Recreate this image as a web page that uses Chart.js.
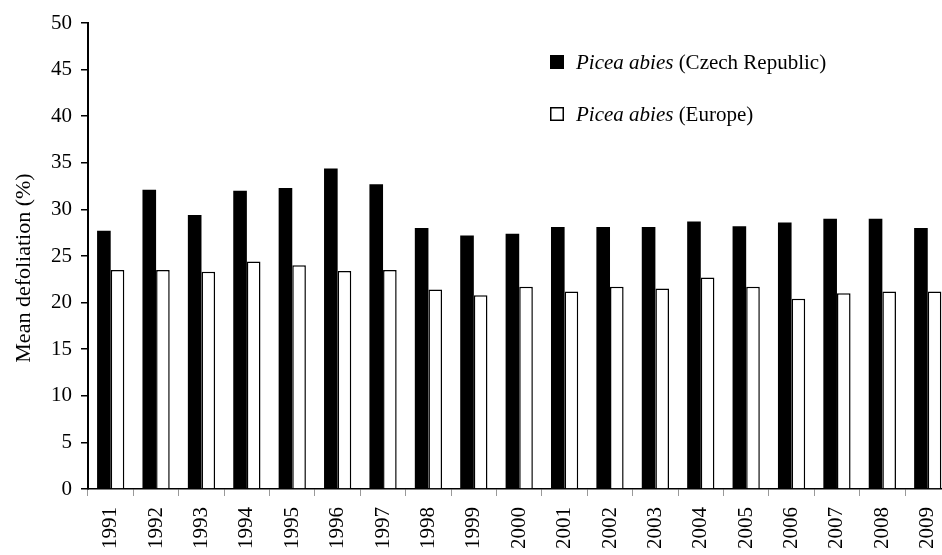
<!DOCTYPE html>
<html>
<head>
<meta charset="utf-8">
<script src="https://cdn.jsdelivr.net/npm/chart.js@4.4.1/dist/chart.umd.min.js"></script>
<style>
    html, body { margin: 0; padding: 0; overflow: hidden; background: #fff; }
    #wrap { width: 964px; height: 555px; position: relative; }
</style>
</head>
<body>
<div id="wrap"><canvas id="defoliationChart"></canvas></div>
<script>
// data
var years = ["1991", "1992", "1993", "1994", "1995", "1996", "1997", "1998", "1999", "2000",
    "2001", "2002", "2003", "2004", "2005", "2006", "2007", "2008", "2009"];
var czechData = [27.7, 32.1, 29.4, 32.0, 32.3, 34.4, 32.7, 28.0, 27.2, 27.4,
    28.1, 28.1, 28.1, 28.7, 28.2, 28.6, 29.0, 29.0, 28.0];
var europeData = [23.5, 23.5, 23.3, 24.4, 24.0, 23.4, 23.5, 21.4, 20.8, 21.7,
    21.2, 21.7, 21.5, 22.7, 21.7, 20.4, 21.0, 21.2, 21.2];
var speciesName = "Picea abies";
var regionNames = ["(Czech Republic)", "(Europe)"];
var yTitle = "Mean defoliation (%)";
var yTicks = [0, 50, 5];

var fontFamily = "'Liberation Serif', 'Times New Roman', serif";

// legend + judul sumbu y digambar manual (sebagian teks miring)
var legendPlugin = {
    id: "serifLegend",
    afterDraw: function (chart) {
        var ctx = chart.ctx;
        var rows = [
            { y: 62, fill: "#000" },
            { y: 114, fill: "#fff" },
        ];
        ctx.save();
        ctx.textBaseline = "middle";
        for (var i = 0; i < rows.length; i++) {
            var r = rows[i];
            ctx.fillStyle = r.fill;
            ctx.fillRect(550, r.y - 7, 14, 14);
            ctx.lineWidth = 1.5;
            ctx.strokeStyle = "#000";
            ctx.strokeRect(550.75, r.y - 6.25, 12.5, 12.5);
            ctx.fillStyle = "#000";
            ctx.font = "italic 21px " + fontFamily;
            ctx.fillText(speciesName, 576, r.y + 1);
            var w = ctx.measureText(speciesName + " ").width;
            ctx.font = "21px " + fontFamily;
            ctx.fillText(regionNames[i], 576 + w, r.y + 1);
        }

        // judul sumbu y
        ctx.translate(24, 268);
        ctx.rotate(-Math.PI / 2);
        ctx.textAlign = "center";
        ctx.font = "22px " + fontFamily;
        ctx.fillText(yTitle, 0, 0);
        ctx.restore();
    },
};

var ctx = document.getElementById("defoliationChart").getContext("2d");
var defoliationChart = new Chart(ctx, {
    type: "bar",
    data: {
        labels: years,
        datasets: [
            {
                label: speciesName + " " + regionNames[0],
                data: czechData,
                backgroundColor: "#000",
                borderWidth: 0,
                categoryPercentage: 0.6,
                barPercentage: 1.0,
            },
            {
                label: speciesName + " " + regionNames[1],
                data: europeData,
                backgroundColor: "#fff",
                borderColor: "#000",
                borderWidth: 1.5,
                categoryPercentage: 0.6,
                barPercentage: 1.0,
            },
        ],
    },
    options: {
        responsive: true,
        maintainAspectRatio: false,
        animation: false,
        layout: {
            padding: { top: 23, right: 2, bottom: 0, left: 0 },
        },
        plugins: {
            legend: { display: false },
            tooltip: { enabled: false },
        },
        scales: {
            y: {
                min: yTicks[0],
                max: yTicks[1],
                afterFit: function (scale) {
                    scale.width = 88;
                },
                border: { display: true, color: "#000", width: 2 },
                grid: {
                    drawOnChartArea: false,
                    drawTicks: true,
                    tickLength: 7,
                    color: "#000",
                    lineWidth: 1.5,
                },
                ticks: {
                    stepSize: yTicks[2],
                    padding: 9,
                    color: "#000",
                    font: { size: 21, family: fontFamily },
                },
            },
            x: {
                afterFit: function (scale) {
                    scale.height = 66;
                },
                border: { display: true, color: "#000", width: 1.5 },
                grid: {
                    offset: true,
                    drawOnChartArea: false,
                    drawTicks: true,
                    tickLength: 7,
                    color: "#999",
                    lineWidth: 1,
                },
                ticks: {
                    autoSkip: false,
                    minRotation: 90,
                    maxRotation: 90,
                    padding: 11,
                    color: "#000",
                    font: { size: 21, family: fontFamily },
                },
            },
        },
    },
    plugins: [legendPlugin],
});
</script>
</body>
</html>
